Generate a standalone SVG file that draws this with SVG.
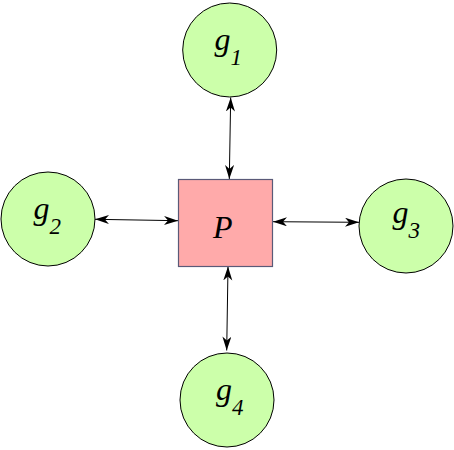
<svg xmlns="http://www.w3.org/2000/svg" width="454" height="450" viewBox="0 0 454 450">
<style>
.g{fill:#ccffaa;stroke:#000;stroke-width:1}
.p{fill:#ffaaaa;stroke:#5a5a78;stroke-width:1.2}
.c{stroke:#000;stroke-width:1;fill:none;marker-start:url(#ah);marker-end:url(#ah)}
</style>
<defs>
<marker id="ah" markerUnits="userSpaceOnUse" markerWidth="15" markerHeight="10" refX="14" refY="4.5" orient="auto-start-reverse">
<path d="M0,0 L14,4.5 L0,9 L4,4.5 Z" fill="#000"/>
</marker>
</defs>
<g id="connectors">
<line class="c" x1="230.7" y1="97.5" x2="229.3" y2="179"/>
<line class="c" x1="95" y1="219.3" x2="178" y2="220.7"/>
<line class="c" x1="273" y1="221.7" x2="359" y2="222.3"/>
<line class="c" x1="228" y1="266.5" x2="226.7" y2="350.5"/>
</g>
<g font-family="Liberation Serif, DejaVu Serif, serif" font-style="italic" font-size="32" fill="#000">
<g id="P">
<rect class="p" x="178.5" y="179.5" width="94" height="87"/>
<text x="213" y="237.5">P</text>
</g>
<g id="g1">
<circle class="g" cx="229.7" cy="50" r="47"/>
<text x="214.5" y="50">g<tspan font-size="23" dy="15">1</tspan></text>
</g>
<g id="g2">
<circle class="g" cx="48" cy="219" r="47"/>
<text x="33.5" y="219">g<tspan font-size="23" dy="15">2</tspan></text>
</g>
<g id="g3">
<circle class="g" cx="406" cy="226" r="47"/>
<text x="392.5" y="223">g<tspan font-size="23" dy="15">3</tspan></text>
</g>
<g id="g4">
<circle class="g" cx="227" cy="400" r="47"/>
<text x="216" y="400">g<tspan font-size="23" dy="15">4</tspan></text>
</g>
</g>
</svg>
